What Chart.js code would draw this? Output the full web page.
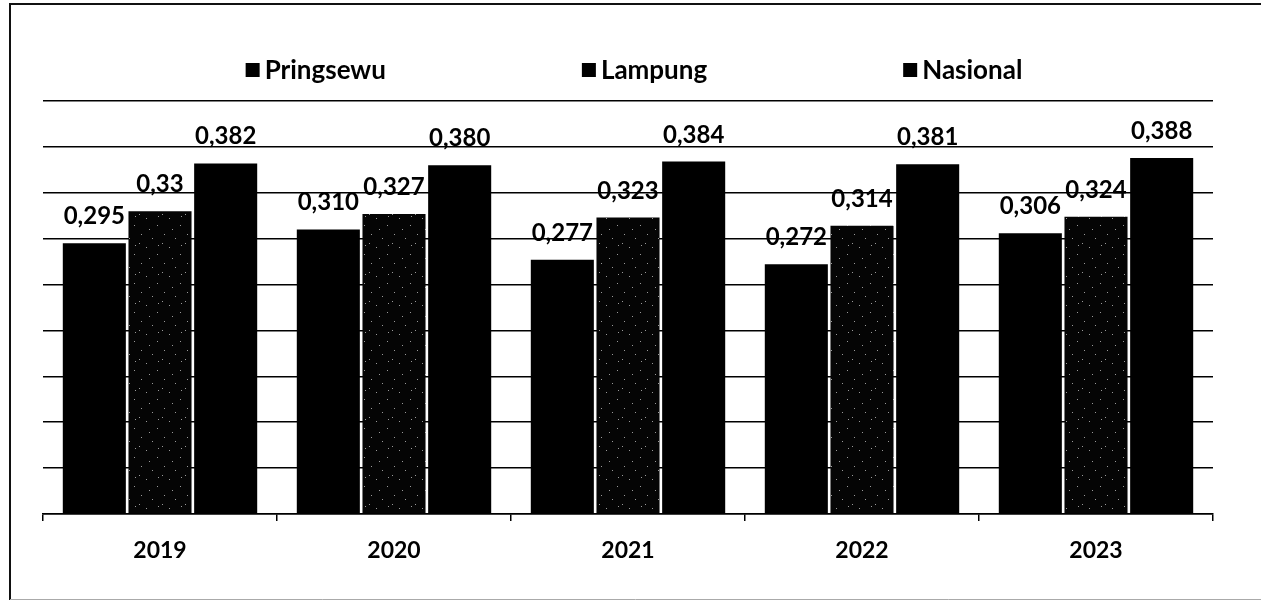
<!DOCTYPE html>
<html>
<head>
<meta charset="utf-8">
<script src="https://cdn.jsdelivr.net/npm/chart.js@4.4.1/dist/chart.umd.min.js"></script>
<style>
  html, body { margin: 0; padding: 0; background: #fff; }
  #wrap { width: 1261px; height: 606px; position: relative; }
</style>
</head>
<body>
<div id="wrap"><canvas id="c" width="1261" height="606"></canvas></div>
<script>
// ---- data ----
const categories = ['2019', '2020', '2021', '2022', '2023'];
const seriesNames = ['Pringsewu', 'Lampung', 'Nasional'];
const pringsewu = [0.295, 0.310, 0.277, 0.272, 0.306];
const lampung   = [0.33, 0.327, 0.323, 0.314, 0.324];
const nasional  = [0.382, 0.380, 0.384, 0.381, 0.388];
const pringsewuLabels = ['0,295', '0,310', '0,277', '0,272', '0,306'];
const lampungLabels   = ['0,33', '0,327', '0,323', '0,314', '0,324'];
const nasionalLabels  = ['0,382', '0,380', '0,384', '0,381', '0,388'];
const yMin = 0, yMax = 0.45, yStep = 0.05;

// speckled near-black pattern for Lampung (fixed dot positions)
function speckle() {
  const p = document.createElement('canvas');
  p.width = 23; p.height = 29;
  const g = p.getContext('2d');
  g.fillStyle = '#050505';
  g.fillRect(0, 0, 23, 29);
  g.fillStyle = '#9a9a9a';
  [[3,2],[14,6],[8,15],[19,22],[1,11],[11,26],[20,13]].forEach(([x, y]) => g.fillRect(x, y, 1, 1));
  return g.createPattern(p, 'repeat');
}
const lampungFill = speckle();

const FONT = 'Lato, "Open Sans", sans-serif';

const framePlugin = {
  id: 'frame',
  beforeDraw(chart) {
    const c = chart.ctx;
    c.save();
    c.fillStyle = '#fff';
    c.fillRect(0, 0, chart.width, chart.height);
    c.restore();
  },
  afterDraw(chart) {
    const c = chart.ctx;
    c.save();
    c.strokeStyle = '#111';
    c.lineWidth = 2;
    c.beginPath();
    c.moveTo(10, 600); c.lineTo(10, 4); c.lineTo(chart.width, 4);
    c.stroke();
    c.strokeStyle = '#aaa';
    c.lineWidth = 1;
    c.beginPath();
    c.moveTo(10, 599.5); c.lineTo(chart.width, 599.5);
    c.stroke();
    c.restore();
  }
};

const valueLabelPlugin = {
  id: 'valueLabels',
  afterDatasetsDraw(chart) {
    const c = chart.ctx;
    c.save();
    c.font = 'bold 24px ' + FONT;
    c.fillStyle = '#000';
    c.textAlign = 'center';
    c.textBaseline = 'alphabetic';
    chart.data.datasets.forEach((ds, i) => {
      const meta = chart.getDatasetMeta(i);
      meta.data.forEach((el, j) => {
        c.fillText(ds.valueLabels[j], el.x, el.y - 19);
      });
    });
    c.restore();
  }
};

const legendPlugin = {
  id: 'customLegend',
  afterDraw(chart) {
    const c = chart.ctx;
    c.save();
    c.font = 'bold 26px ' + FONT;
    c.textBaseline = 'middle';
    c.textAlign = 'left';
    const box = 14, gapText = 5, gapItem = 196, yMid = 70;
    const items = chart.data.datasets.map(ds => ({
      label: ds.label, w: box + gapText + c.measureText(ds.label).width
    }));
    const total = items.reduce((s, it) => s + it.w, 0) + gapItem * (items.length - 1);
    let x = 634 - total / 2;
    items.forEach(it => {
      c.fillStyle = '#000';
      c.fillRect(x, yMid - box / 2, box, box);
      c.fillText(it.label, x + box + gapText, yMid + 1);
      x += it.w + gapItem;
    });
    c.restore();
  }
};

new Chart(document.getElementById('c'), {
  type: 'bar',
  data: {
    labels: categories,
    datasets: [
      { label: seriesNames[0], data: pringsewu, valueLabels: pringsewuLabels, backgroundColor: '#000' },
      { label: seriesNames[1], data: lampung, valueLabels: lampungLabels, backgroundColor: lampungFill },
      { label: seriesNames[2], data: nasional, valueLabels: nasionalLabels, backgroundColor: '#000' }
    ]
  },
  options: {
    responsive: false,
    animation: false,
    devicePixelRatio: 1,
    categoryPercentage: 0.842,
    barPercentage: 0.96,
    layout: { padding: { left: 43, right: 48, top: 101, bottom: 0 } },
    plugins: { legend: { display: false }, tooltip: { enabled: false } },
    scales: {
      x: {
        grid: { display: true, drawOnChartArea: false, drawTicks: true, tickLength: 7, color: '#000', lineWidth: 1.5, offset: true },
        border: { display: true, color: '#000', width: 1.6 },
        ticks: { font: { family: FONT, weight: 'bold', size: 23 }, color: '#000', padding: 16 },
        afterFit(s) { s.height = 92; }
      },
      y: {
        min: yMin, max: yMax,
        ticks: { display: false, stepSize: yStep },
        grid: { color: '#000', lineWidth: 1.6, drawTicks: false },
        border: { display: false },
        afterFit(s) { s.width = 0; }
      }
    }
  },
  plugins: [framePlugin, valueLabelPlugin, legendPlugin]
});
</script>
</body>
</html>
